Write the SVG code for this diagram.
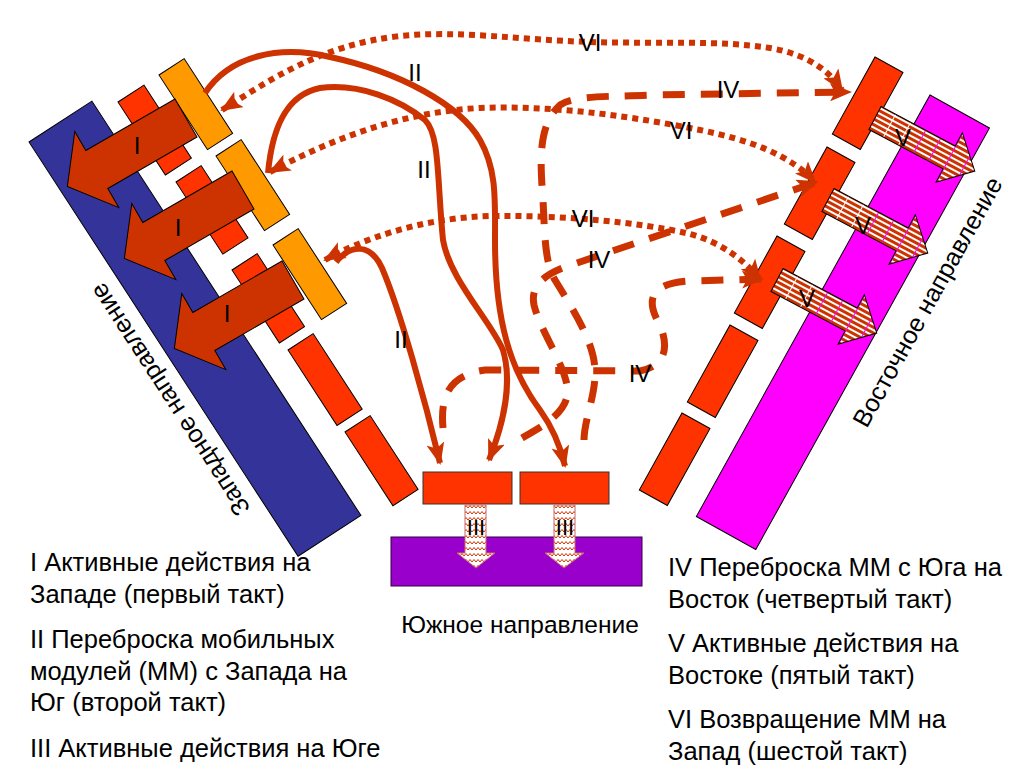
<svg xmlns="http://www.w3.org/2000/svg" width="1024" height="767" viewBox="0 0 1024 767">
<defs>
<style>
.t{font-family:"Liberation Sans",Arial,sans-serif;fill:#000}
.lg{font-size:25.5px}
.lb{font-size:24px;text-anchor:middle}
.dir{font-size:25px;text-anchor:middle}
.blk{stroke:#000;stroke-width:1}
.con{fill:none;stroke:#CC3300;stroke-width:6}
.dot{stroke-dasharray:6 5;stroke-width:6}
.dash{stroke-dasharray:22 16;stroke-width:7}
.red{fill:#FF3300}
.org{fill:#FF9900}
.bigI{fill:#CC3300}
</style>
<marker id="ah" viewBox="0 0 22 18" markerWidth="22" markerHeight="18" refX="20" refY="9" orient="auto-start-reverse" markerUnits="userSpaceOnUse"><path d="M0,0 L22,9 L0,18 L5,9 z" fill="#CC3300"/></marker>
<pattern id="stripe" width="17" height="5" patternUnits="userSpaceOnUse"><rect width="16" height="3" fill="#CC3300"/><rect y="3" width="16" height="2" fill="#fff"/></pattern>
<pattern id="wave" width="8" height="6" patternUnits="userSpaceOnUse"><rect width="8" height="6" fill="#fff"/><path d="M0,4 L2,1.5 L4,4 L6,1.5 L8,4" fill="none" stroke="#CC3300" stroke-width="1"/></pattern>
</defs>
<rect width="1024" height="767" fill="#fff"/>

<g id="west">
<rect transform="translate(29,142) rotate(-33)" width="75" height="494" fill="#333399" class="blk"/>
<text class="t dir" transform="translate(177,395) rotate(237)">Западное направление</text>
<rect class="red blk" transform="translate(118,102) rotate(-33)" width="31" height="87"/>
<rect class="red blk" transform="translate(176,182) rotate(-33)" width="30" height="86"/>
<rect class="red blk" transform="translate(232,270) rotate(-33)" width="30" height="87"/>
<rect class="red blk" transform="translate(288,350) rotate(-33)" width="30" height="90"/>
<rect class="red blk" transform="translate(345,432) rotate(-33)" width="30" height="88"/>
<rect class="org blk" transform="translate(159,75) rotate(-33)" width="30" height="89"/>
<rect class="org blk" transform="translate(216,156) rotate(-33)" width="30" height="89"/>
<rect class="org blk" transform="translate(273,245) rotate(-33)" width="30" height="89"/>
</g>

<g id="actI">
<polygon class="bigI blk" transform="translate(186,118) rotate(150)" points="0,-22 103,-22 103,-44 137,0 103,44 103,22 0,22"/>
<polygon class="bigI blk" transform="translate(243,190) rotate(150)" points="0,-22 103,-22 103,-44 137,0 103,44 103,22 0,22"/>
<polygon class="bigI blk" transform="translate(293,280) rotate(150)" points="0,-22 103,-22 103,-44 137,0 103,44 103,22 0,22"/>
<text class="t lb" x="137" y="154">I</text>
<text class="t lb" x="178" y="236">I</text>
<text class="t lb" x="227" y="322">I</text>
</g>

<g id="east">
<rect transform="translate(930,95) rotate(29)" width="68" height="482" fill="#FF00FF" class="blk"/>
<text class="t dir" transform="translate(935,306) rotate(-61)">Восточное направление</text>
<rect class="red blk" transform="translate(875,57) rotate(29)" width="32" height="88"/>
<rect class="red blk" transform="translate(827,147) rotate(29)" width="32" height="88"/>
<rect class="red blk" transform="translate(777,236) rotate(29)" width="32" height="88"/>
<rect class="red blk" transform="translate(730,325) rotate(29)" width="32" height="88"/>
<rect class="red blk" transform="translate(682,413) rotate(29)" width="32" height="88"/>
</g>

<g id="actV">
<polygon fill="url(#stripe)" class="blk" transform="translate(875,118) rotate(28)" points="0,-13 84,-13 84,-28 113,0 84,28 84,13 0,13"/>
<polygon fill="url(#stripe)" class="blk" transform="translate(828,200) rotate(28)" points="0,-13 84,-13 84,-28 113,0 84,28 84,13 0,13"/>
<polygon fill="url(#stripe)" class="blk" transform="translate(777,280) rotate(28)" points="0,-13 84,-13 84,-28 113,0 84,28 84,13 0,13"/>
<text class="t lb" x="903" y="146">V</text>
<text class="t lb" x="863" y="234">V</text>
<text class="t lb" x="807" y="307">V</text>
</g>

<g id="south">
<rect x="391" y="537" width="251" height="49" fill="#9900CC" stroke="#330044" stroke-width="1"/>
<rect class="red" x="423" y="472" width="89" height="32" stroke="#333" stroke-width="1"/>
<rect class="red" x="520" y="472" width="89" height="32" stroke="#333" stroke-width="1"/>
<polygon fill="url(#wave)" stroke="#c66" stroke-width="1" points="465,505 486,505 486,553 495,553 476,568 457,553 465,553"/>
<polygon fill="url(#wave)" stroke="#c66" stroke-width="1" points="554,505 575,505 575,553 584,553 564,568 545,553 554,553"/>
<text class="t" x="476" y="535" font-size="22" text-anchor="middle">III</text>
<text class="t" x="565" y="535" font-size="22" text-anchor="middle">III</text>
<text class="t" x="520" y="633" font-size="24.5" text-anchor="middle">Южное направление</text>
</g>

<g id="connectors">
<path class="con" marker-end="url(#ah)" d="M205,93 C230,55 280,45 330,57 C400,72 460,105 480,140 C497,170 495,200 495,240 C495,320 510,370 540,410 C553,428 560,445 565,466"/>
<path class="con" marker-end="url(#ah)" d="M268,173 C272,130 285,95 320,88 C360,83 400,100 425,120 C440,135 437,180 443,240 C450,280 490,320 503,350 C512,380 505,420 489,460"/>
<path class="con" marker-end="url(#ah)" d="M336,262 C350,245 370,242 382,268 C400,310 425,400 440,463"/>
<path class="con dot" marker-start="url(#ah)" marker-end="url(#ah)" d="M222,110 C270,80 320,45 400,36 C460,30 520,40 590,42 C660,44 720,40 770,48 C810,55 830,72 842,90"/>
<path class="con dot" marker-start="url(#ah)" marker-end="url(#ah)" d="M270,172 C330,140 400,112 480,108 C560,105 640,118 700,130 C750,140 790,155 815,182"/>
<path class="con dot" marker-start="url(#ah)" marker-end="url(#ah)" d="M325,260 C360,240 420,218 490,216 C560,215 640,222 690,234 C720,242 745,260 760,280"/>
<path class="con dash" marker-end="url(#ah)" d="M584,440 C584,420 596,395 595,370 C594,340 570,305 555,280 C545,262 545,240 543,200 C540,160 538,125 560,105 C575,95 610,97 650,95 L850,92"/>
<path class="con dash" marker-end="url(#ah)" d="M522,438 C545,425 572,410 567,385 C562,360 540,330 534,305 C530,285 545,275 565,267 L817,182"/>
<path class="con dash" marker-end="url(#ah)" d="M443,428 C440,395 450,375 485,370 L640,371 C668,365 668,345 660,325 C645,300 650,283 690,281 L762,279"/>
</g>

<g id="labels">
<text class="t lb" x="415" y="81">II</text>
<text class="t lb" x="424" y="178">II</text>
<text class="t lb" x="401" y="348">II</text>
<text class="t lb" x="590" y="51">VI</text>
<text class="t lb" x="681" y="139">VI</text>
<text class="t lb" x="583" y="227">VI</text>
<text class="t lb" x="728" y="98">IV</text>
<text class="t lb" x="599" y="268">IV</text>
<text class="t lb" x="640" y="382">IV</text>
</g>

<g id="legend">
<text class="t lg" x="30" y="571">I Активные действия на</text>
<text class="t lg" x="30" y="603">Западе (первый такт)</text>
<text class="t lg" x="30" y="648">II Переброска мобильных</text>
<text class="t lg" x="30" y="680">модулей (ММ) с Запада на</text>
<text class="t lg" x="30" y="711">Юг (второй такт)</text>
<text class="t lg" x="30" y="757">III Активные действия на Юге</text>
<text class="t lg" x="668" y="576">IV Переброска ММ с Юга на</text>
<text class="t lg" x="668" y="608">Восток (четвертый такт)</text>
<text class="t lg" x="668" y="652">V Активные действия на</text>
<text class="t lg" x="668" y="684">Востоке (пятый такт)</text>
<text class="t lg" x="668" y="728">VI Возвращение ММ на</text>
<text class="t lg" x="668" y="760">Запад (шестой такт)</text>
</g>
</svg>
